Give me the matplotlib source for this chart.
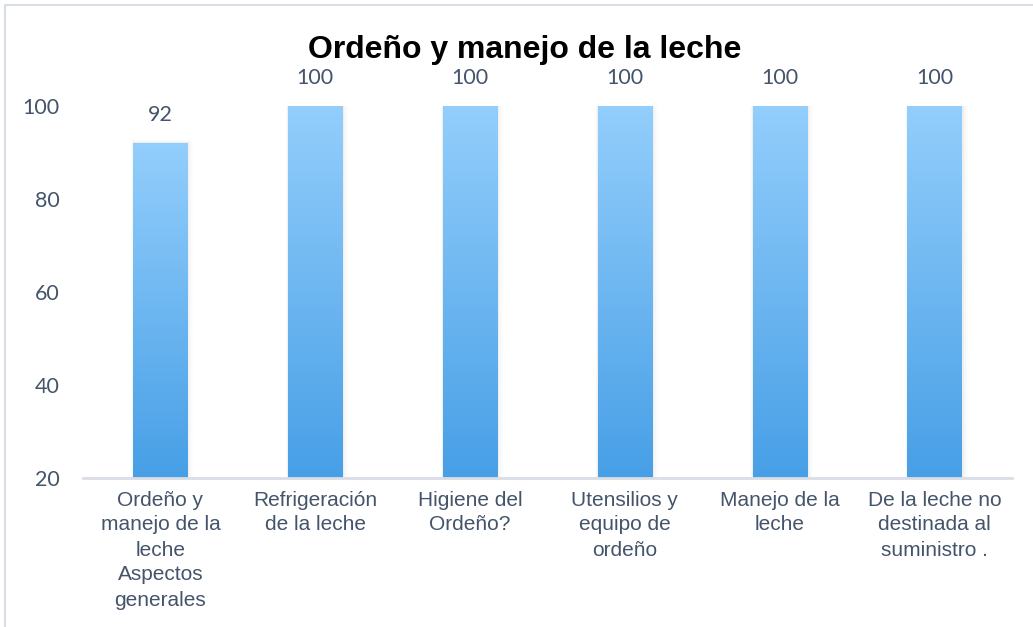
import matplotlib
matplotlib.use("Agg")
import matplotlib.pyplot as plt
import numpy as np
from matplotlib.patches import Rectangle
from matplotlib.colors import LinearSegmentedColormap

categories = [
    "Ordeño y\nmanejo de la\nleche\nAspectos\ngenerales",
    "Refrigeración\nde la leche",
    "Higiene del\nOrdeño?",
    "Utensilios y\nequipo de\nordeño",
    "Manejo de la\nleche",
    "De la leche no\ndestinada al\nsuministro .",
]
values = [92, 100, 100, 100, 100, 100]
yticks = [20, 40, 60, 80, 100]
title = "Ordeño y manejo de la leche"

W, H = 1033, 627
fig = plt.figure(figsize=(W / 100, H / 100), dpi=100)
fig.patch.set_facecolor("white")

# outer frame
fig.patches.append(Rectangle((5 / W, -0.05), 1.2, 1 - 5 / H + 0.05, transform=fig.transFigure,
                             fill=False, edgecolor="#D9DEE5", linewidth=1.5, zorder=0))

ax = fig.add_axes([83 / W, 1 - 478 / H, (1012 - 83) / W, (478 - 106) / H])
ax.set_xlim(-0.5, len(values) - 0.5)
ax.set_ylim(20, 100)

cmap = LinearSegmentedColormap.from_list("g", ["#479FE6", "#93CEFC"])
grad = np.linspace(0, 1, 256).reshape(-1, 1)
x = np.arange(len(values))
width = 0.35
bars = ax.bar(x, np.array(values) - 20, bottom=20, width=width, color="none", zorder=2)
for b, v in zip(bars, values):
    x0, w = b.get_x(), b.get_width()
    # soft shadow
    for k, a in enumerate([0.06, 0.04, 0.02]):
        d = 0.008 * (k + 1)
        ax.add_patch(Rectangle((x0 - d * 0.6, 20), w + d * 2.2, v - 20 + 0.5 * (k + 1) * 0.4,
                               facecolor="#808080", alpha=a, edgecolor="none", zorder=1))
    im = ax.imshow(grad, extent=[x0, x0 + w, 20, v], origin="lower", cmap=cmap,
                   aspect="auto", zorder=2, interpolation="bilinear")
    im.set_clip_path(b)
    ax.annotate(f"{v}", (x0 + w / 2, v), xytext=(0, 13), textcoords="offset points",
                ha="center", va="bottom", fontsize=15.5, color="#44546A", family="Lato")
ax.set_xlim(-0.5, len(values) - 0.5)
ax.set_ylim(20, 100)

for s in ["top", "right", "left"]:
    ax.spines[s].set_visible(False)
ax.spines["bottom"].set_color("#D9DEE5")
ax.spines["bottom"].set_linewidth(2)
ax.spines["bottom"].set_zorder(3)

ax.set_yticks(yticks)
ax.set_yticklabels([str(t) for t in yticks], fontsize=15.5, color="#44546A", family="Lato")
ax.set_xticks(x)
ax.set_xticklabels(categories, fontsize=15, color="#44546A", family="Liberation Sans",
                   linespacing=1.4)
ax.tick_params(axis="both", length=0)
ax.tick_params(axis="y", pad=17)
ax.tick_params(axis="x", pad=9)

fig.text(525 / W, 1 - 50 / H, title, ha="center", va="center", fontsize=23,
         fontweight="bold", family="Liberation Sans", color="black")

fig.savefig("out.png", dpi=100, facecolor="white")
